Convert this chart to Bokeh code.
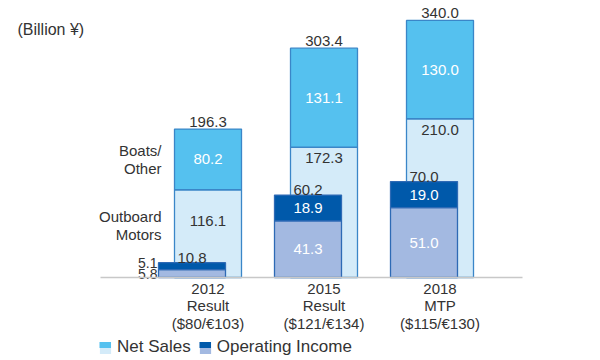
from bokeh.plotting import figure
from bokeh.models import Range1d, LinearAxis, FixedTicker, Legend, LegendItem, Label
from bokeh.core.properties import value
from bokeh.embed import file_html
from bokeh.resources import INLINE

# ---- data ----
categories = ["2012\nResult\n($80/€103)", "2015\nResult\n($121/€134)", "2018\nMTP\n($115/€130)"]
outboard_sales = [116.1, 172.3, 210.0]
boats_sales = [80.2, 131.1, 130.0]
net_total = [196.3, 303.4, 340.0]
op_lower = [5.8, 41.3, 51.0]
op_upper = [5.1, 18.9, 19.0]
op_total = [10.8, 60.2, 70.0]
unit_label = "(Billion ¥)"
segment_names = ["Boats/\nOther", "Outboard\nMotors"]
legend_labels = ["Net Sales", "Operating Income"]

# ---- layout constants ----
W, H = 600, 360
BASE = 277          # px from top of figure to baseline
NET_PX = 0.756      # px per billion (net sales)
OP_PX = 1.37        # px per billion (operating income)
CAT_PX = 116        # px between categories
X0_PX = 207.5       # px of first net-sales bar centre
BAR_W = 67 / CAT_PX
OP_SHIFT = -16 / CAT_PX

FONT = "Liberation Sans"
DARK = "#333333"
C_BOATS = "#55c1ef"
C_OUT = "#d4ebf9"
C_NETLINE = "#3a86c8"
C_OPTOP = "#0059aa"
C_OPBOT = "#a3b9e1"
C_OPLINE = "#2e6ab5"

p = figure(width=W, height=H, output_backend="svg", toolbar_location=None,
           x_axis_type=None, y_axis_type=None, title=None,
           x_range=Range1d(-X0_PX / CAT_PX, (W - X0_PX) / CAT_PX),
           y_range=Range1d(-(H - BASE) / NET_PX, BASE / NET_PX),
           min_border=0, min_border_left=0, min_border_right=0,
           min_border_top=0, min_border_bottom=0)
p.extra_y_ranges = {"op": Range1d(-(H - BASE) / OP_PX, BASE / OP_PX)}
p.outline_line_color = None
p.background_fill_color = "white"

xs = list(range(len(categories)))
xo = [x + OP_SHIFT for x in xs]
n = len(xs)

# category axis at the baseline
ax = LinearAxis(fixed_location=0, ticker=FixedTicker(ticks=xs),
                major_label_overrides={x: c for x, c in zip(xs, categories)},
                bounds=((100 - X0_PX) / CAT_PX, (522 - X0_PX) / CAT_PX))
ax.axis_line_color = "#c8c8c8"
ax.axis_line_width = 1.5
ax.major_tick_line_color = None
ax.minor_tick_line_color = None
ax.major_label_standoff = -4
ax.major_label_text_font = FONT
ax.major_label_text_font_size = "15px"
ax.major_label_text_color = DARK
ax.major_label_text_line_height = 1.05
p.add_layout(ax, "below")

# net sales bars
p.vbar(x=xs, bottom=[0] * n, top=outboard_sales, width=BAR_W,
       fill_color=C_OUT, line_color=C_NETLINE, line_width=1.3)
p.vbar(x=xs, bottom=outboard_sales, top=net_total, width=BAR_W,
       fill_color=C_BOATS, line_color=C_NETLINE, line_width=1.3)

# operating income bars
p.vbar(x=xo, bottom=[0] * n, top=op_lower, width=BAR_W, y_range_name="op",
       fill_color=C_OPBOT, line_color=C_OPLINE, line_width=1.3)
p.vbar(x=xo, bottom=op_lower, top=op_total, width=BAR_W, y_range_name="op",
       fill_color=C_OPTOP, line_color=C_OPLINE, line_width=1.3)

def txt(x, y, t, color=DARK, align="center", baseline="middle", xo_=0, yo_=0,
        rng="default", size="15px", lh=1.1):
    p.text(x=x, y=y, text=t, text_font=value(FONT), text_font_size=size,
           text_color=color, text_align=align, text_baseline=baseline,
           x_offset=xo_, y_offset=yo_, y_range_name=rng, text_line_height=lh)

fmt = lambda v: f"{v:.1f}"

# net sales labels
txt(xs, net_total, [fmt(v) for v in net_total], baseline="alphabetic", yo_=-7)
txt(xs, [o + b / 2 for o, b in zip(outboard_sales, boats_sales)],
    [fmt(v) for v in boats_sales], color="white")
ob_offsets = [26, 6, 6]
txt(xs, outboard_sales, [fmt(v) for v in outboard_sales], baseline="top", yo_=ob_offsets)

# segment names left of first bar
left_x = [xs[0] - BAR_W / 2]
txt(left_x, [outboard_sales[0] + boats_sales[0] / 2], [segment_names[0]],
    align="right", xo_=-13)
txt(left_x, [outboard_sales[0]], [segment_names[1]], align="right",
    baseline="top", xo_=-13, yo_=ob_offsets[0] - 8)

# operating income labels
txt(xo, op_total, [fmt(v) for v in op_total], baseline="alphabetic", yo_=-5, rng="op")
SMALL = 8
big = [i for i in xs if op_lower[i] >= SMALL]
small = [i for i in xs if op_lower[i] < SMALL]
txt([xo[i] for i in big], [op_lower[i] + (op_total[i] - op_lower[i]) / 2 for i in big],
    [fmt(op_upper[i]) for i in big], color="white", rng="op")
txt([xo[i] for i in big], [op_lower[i] / 2 for i in big],
    [fmt(op_lower[i]) for i in big], color="white", rng="op")
if small:
    lx = [xo[i] - BAR_W / 2 for i in small]
    txt(lx, [op_total[i] for i in small], [fmt(op_upper[i]) for i in small],
        align="right", baseline="alphabetic", xo_=-1, rng="op", size="14px")
    txt(lx, [0 for i in small], [fmt(op_lower[i]) for i in small],
        align="right", baseline="alphabetic", xo_=-1, yo_=-4, rng="op", size="14px")

# unit label
p.add_layout(Label(x=17, y=H - 29, x_units="screen", y_units="screen", text=unit_label,
                   text_font=FONT, text_font_size="16px", text_color=DARK,
                   text_baseline="middle"))

# legend swatches: zero-size (invisible) glyphs used only as legend glyphs
def area_swatch(color):
    return p.vbar(x=[xs[0]], bottom=[0], top=[0], width=0.001,
                  fill_color=color, line_color=None)

def band_swatch(color):
    return p.line(x=[xs[0], xs[0]], y=[0, 0], line_color=color, line_width=6)

r_ns_bot, r_oi_bot = area_swatch(C_OUT), area_swatch(C_OPBOT)
r_ns_top, r_oi_top = band_swatch(C_BOATS), band_swatch(C_OPTOP)

LEG_X, LEG_Y = 98, 3
common = dict(orientation="horizontal", glyph_height=15, padding=0, margin=0,
              border_line_color=None, background_fill_alpha=0,
              label_text_font=FONT, label_text_font_size="17px",
              label_text_color=DARK, label_height=20)

# full swatch (drawn with 10% inset) with the visible labels
p.add_layout(Legend(items=[LegendItem(label=legend_labels[0], renderers=[r_ns_bot]),
                           LegendItem(label=legend_labels[1], renderers=[r_oi_bot])],
                    location=(LEG_X, LEG_Y), glyph_width=14, label_standoff=5,
                    spacing=7, **common))
# top-half colour band over each swatch (no label text)
p.add_layout(Legend(items=[LegendItem(label="", renderers=[r_ns_top]),
                           LegendItem(label="", renderers=[r_oi_top])],
                    location=(LEG_X + 1, LEG_Y + 3), glyph_width=12, label_standoff=7,
                    label_width=0, spacing=81, **common))

open("out.html", "w").write(file_html(p, INLINE))
